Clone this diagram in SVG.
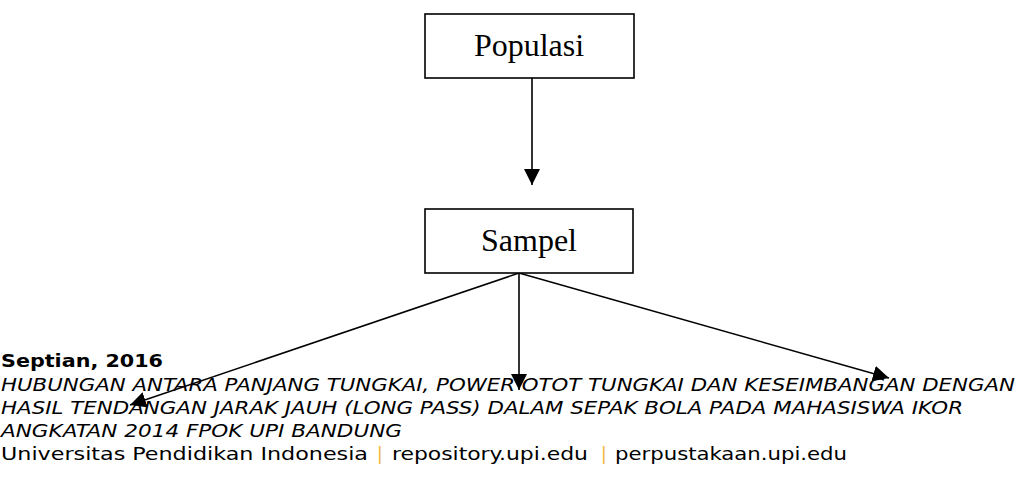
<svg xmlns="http://www.w3.org/2000/svg" width="1030" height="479" viewBox="0 0 1030 479">
<style>
.box{fill:#fff;stroke:#000;stroke-width:1.6}
.lbl{font-family:"Liberation Serif",serif;font-size:32px;fill:#000;text-anchor:middle}
.conn{stroke:#000;stroke-width:1.6;fill:none}
.ft{font-family:"DejaVu Sans Condensed","DejaVu Sans",sans-serif;font-size:18.5px;fill:#000}
.it{font-style:italic}
.bd{font-weight:bold}
.sep{fill:#f2b233}
</style>
<defs>
<marker id="ah" markerUnits="userSpaceOnUse" markerWidth="18" markerHeight="16" refX="16" refY="8" orient="auto">
<path d="M0,0 L16,8 L0,16 Z" fill="#000"/>
</marker>
</defs>
<rect width="1030" height="479" fill="#fff"/>
<g id="connectors">
<line class="conn" x1="532" y1="78" x2="532" y2="185" marker-end="url(#ah)"/>
<line class="conn" x1="519" y1="273" x2="130" y2="405" marker-end="url(#ah)"/>
<line class="conn" x1="519" y1="273" x2="519" y2="390" marker-end="url(#ah)"/>
<line class="conn" x1="519" y1="273" x2="889" y2="378" marker-end="url(#ah)"/>
</g>
<g id="populasi">
<rect class="box" x="425" y="14" width="209" height="64"/>
<text class="lbl" x="529" y="56">Populasi</text>
</g>
<g id="sampel">
<rect class="box" x="425" y="209" width="208" height="64"/>
<text class="lbl" x="529" y="251">Sampel</text>
</g>
<g id="footer">
<text class="ft bd" x="1" y="367" textLength="162" lengthAdjust="spacingAndGlyphs">Septian, 2016</text>
<text class="ft it" x="1" y="391" textLength="1014" lengthAdjust="spacingAndGlyphs">HUBUNGAN ANTARA PANJANG TUNGKAI, POWER OTOT TUNGKAI DAN KESEIMBANGAN DENGAN</text>
<text class="ft it" x="1" y="414" textLength="962" lengthAdjust="spacingAndGlyphs">HASIL TENDANGAN JARAK JAUH (LONG PASS) DALAM SEPAK BOLA PADA MAHASISWA IKOR</text>
<text class="ft it" x="1" y="437" textLength="401" lengthAdjust="spacingAndGlyphs">ANGKATAN 2014 FPOK UPI BANDUNG</text>
<text class="ft" x="1" y="460" textLength="367" lengthAdjust="spacingAndGlyphs">Universitas Pendidikan Indonesia</text>
<text class="ft sep" x="377" y="460">|</text>
<text class="ft" x="392" y="460" textLength="196" lengthAdjust="spacingAndGlyphs">repository.upi.edu</text>
<text class="ft sep" x="601" y="460">|</text>
<text class="ft" x="615" y="460" textLength="232" lengthAdjust="spacingAndGlyphs">perpustakaan.upi.edu</text>
</g>
</svg>
